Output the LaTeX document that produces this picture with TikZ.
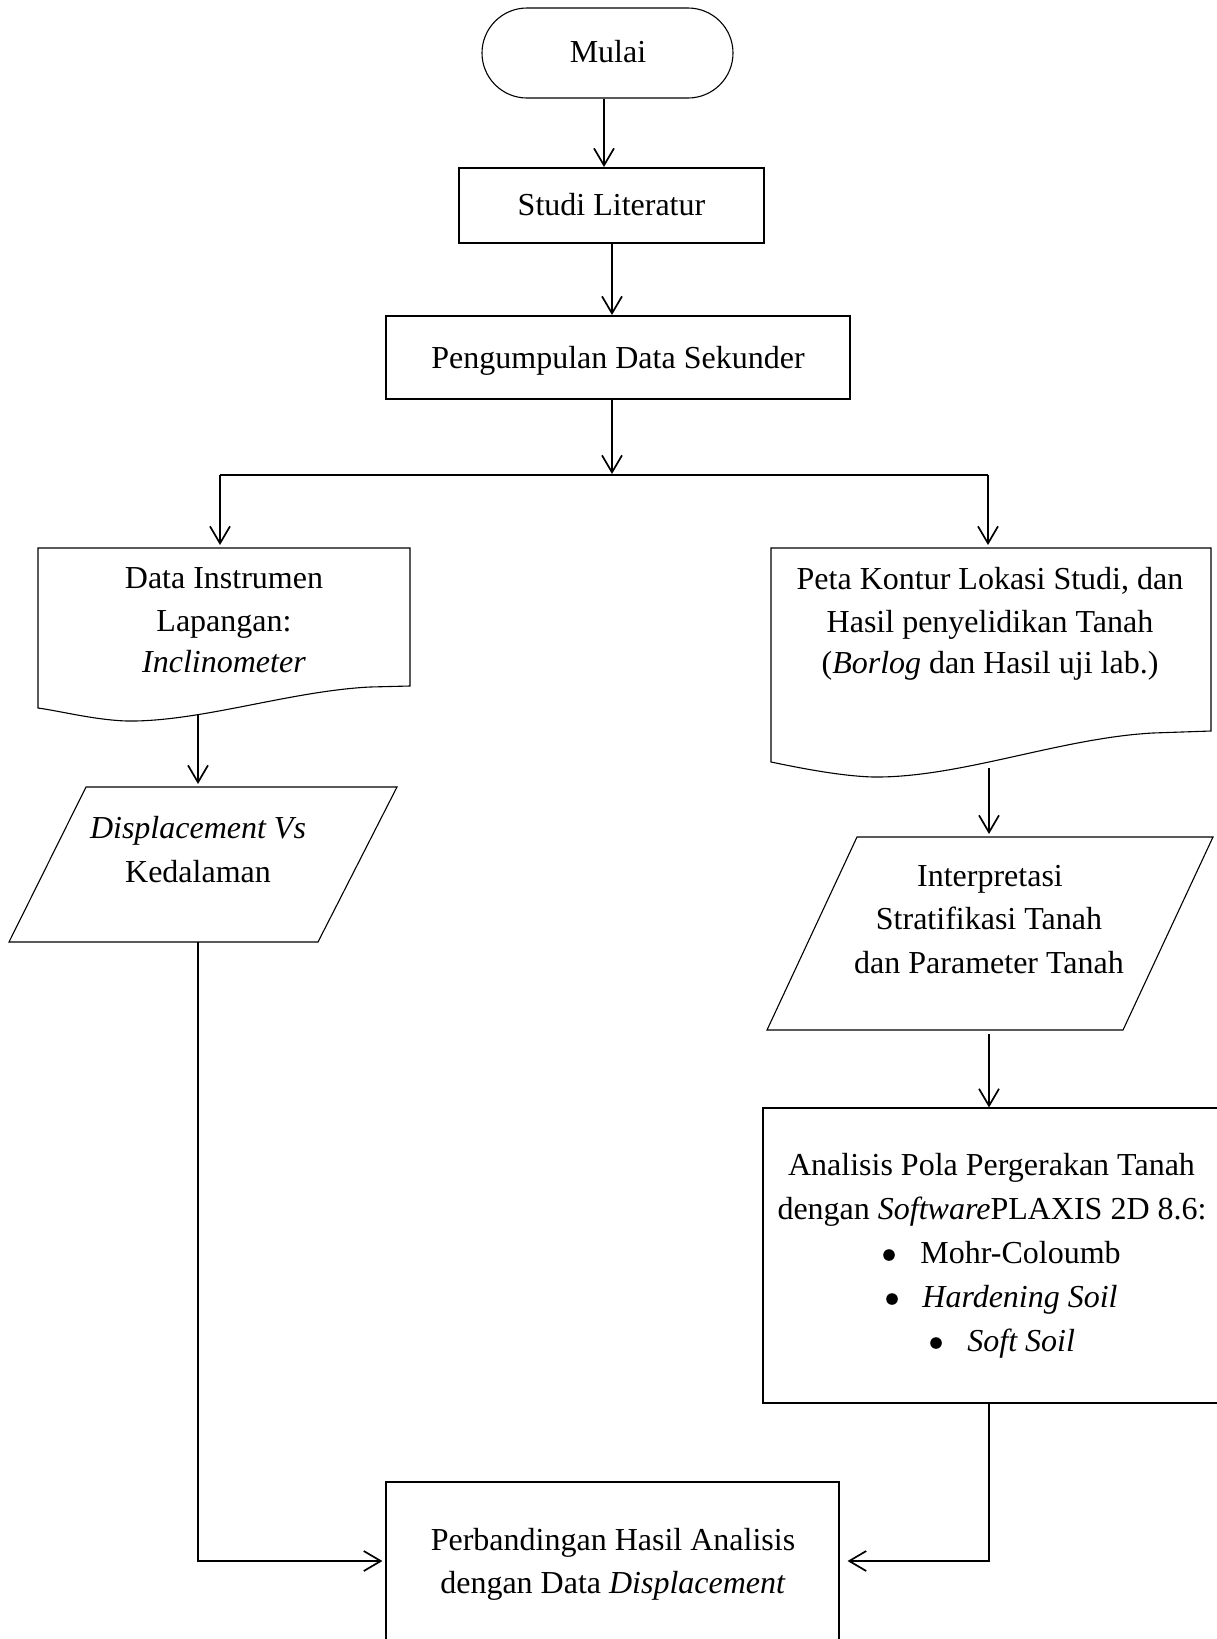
\documentclass[tikz,border=0pt]{standalone}
\usepackage{fontspec}
\setmainfont{Liberation Serif}
\usetikzlibrary{arrows.meta}
\begin{document}
\begin{tikzpicture}[x=0.5pt,y=-0.5pt,
  shapeline/.style={draw=black, line width=0.55pt},
  boxnode/.style={shapeline, rectangle, inner sep=0pt},
  txt/.style={anchor=base, inner sep=0pt, font=\fontsize{16pt}{21.5pt}\selectfont},
  ltxt/.style={txt, anchor=base west},
  dot/.style={circle, fill=black, inner sep=0pt, minimum size=5.8pt},
  flow/.style={line width=0.85pt, -{Straight Barb[length=8.5pt,width=10pt,line width=0.85pt]}},
  plain/.style={line width=0.85pt}]
\useasboundingbox (0,0) rectangle (1216,1639);

% boxes
\node[boxnode, rounded corners=22.5pt, minimum width=125.5pt, minimum height=45pt] (mulai) at (607.5,53) {};
\node[boxnode, minimum width=152.5pt, minimum height=37.5pt] (studi) at (611.5,205.5) {};
\node[boxnode, minimum width=232pt, minimum height=41.5pt] (data) at (618,357.5) {};
\node[boxnode, minimum width=233.5pt, minimum height=147.5pt] (anal) at (996.5,1255.5) {};
\node[boxnode, minimum width=226.5pt, minimum height=100pt] (perb) at (612.5,1582) {};

% document shapes
\draw[shapeline] (38,548) -- (410,548) -- (410,686) -- (370,687)
  .. controls (290,691) and (200,722) .. (127,721)
  .. controls (95,720) and (60,711) .. (38,708) -- cycle;
\draw[shapeline] (771,548) -- (1211,548) -- (1211,731) -- (1153,733)
  .. controls (1060,738) and (960,778) .. (873,777)
  .. controls (840,776) and (800,768) .. (771,762) -- cycle;

% parallelograms
\draw[shapeline] (86,787) -- (397,787) -- (318,942) -- (9,942) -- cycle;
\draw[shapeline] (857,837) -- (1213,837) -- (1123,1030) -- (767,1030) -- cycle;

% texts
\node[txt] (tmulai) at (608,62) {Mulai};
\node[txt] (tstudi) at (611.5,215) {Studi Literatur};
\node[txt] (tdata) at (618,368) {Pengumpulan Data Sekunder};

\node[txt] (tl1) at (224,588) {Data Instrumen};
\node[txt] (tl2) at (224,631) {Lapangan:};
\node[txt] (tl3) at (224,672) {\textit{Inclinometer}};

\node[txt] (tr1) at (990,589) {Peta Kontur Lokasi Studi, dan};
\node[txt] (tr2) at (990,632) {Hasil penyelidikan Tanah};
\node[txt] (tr3) at (990,673) {(\textit{Borlog} dan Hasil uji lab.)};

\node[txt] (tp1) at (198,838) {\textit{Displacement Vs}};
\node[txt] (tp2) at (198,882) {Kedalaman};

\node[txt] (tq1) at (990,886) {Interpretasi};
\node[txt] (tq2) at (989,929) {Stratifikasi Tanah};
\node[txt] (tq3) at (989,973) {dan Parameter Tanah};

\node[txt] (ta1) at (991.5,1175) {Analisis Pola Pergerakan Tanah};
\node[txt] (ta2) at (992,1219) {dengan \textit{Software}PLAXIS 2D 8.6:};
\node[dot] (b1) at (889,1255) {};
\node[ltxt] (ta3) at (920,1263) {Mohr-Coloumb};
\node[dot] (b2) at (892,1299) {};
\node[ltxt] (ta4) at (922,1307) {\textit{Hardening Soil}};
\node[dot] (b3) at (936,1343) {};
\node[ltxt] (ta5) at (967,1351) {\textit{Soft Soil}};

\node[txt] (tb1) at (613,1550) {Perbandingan Hasil Analisis};
\node[txt] (tb2) at (613,1593) {dengan Data \textit{Displacement}};

% connector points
\coordinate (m1) at (604,167);
\coordinate (s1) at (612,315);
\coordinate (split) at (612,474);
\coordinate (splitL) at (220,475);
\coordinate (splitR) at (988,475);
\coordinate (ldocT) at (220,545);
\coordinate (rdocT) at (988,545);
\coordinate (ldocB) at (198,714);
\coordinate (lparT) at (198,784);
\coordinate (rdocB) at (989,768);
\coordinate (rparT) at (989,834);
\coordinate (rparB) at (989,1034);
\coordinate (lparB) at (198,942);
\coordinate (cl) at (198,1561);
\coordinate (cr) at (989,1561);

% connectors
\draw[flow] (mulai.south -| m1) -- (m1);
\draw[flow] (studi.south -| s1) -- (s1);
\draw[flow] (data.south -| split) -- (split);
\draw[plain] (splitL) -- (splitR);
\draw[flow] (splitL) -- (ldocT);
\draw[flow] (splitR) -- (rdocT);
\draw[flow] (ldocB) -- (lparT);
\draw[flow] (rdocB) -- (rparT);
\draw[flow] (rparB) -- (anal.north -| rparB);
\draw[flow, shorten >=1.5pt] (lparB) -- (cl) -- (perb.west |- cl);
\draw[flow, shorten >=4pt] (anal.south -| cr) -- (cr) -- (perb.east |- cr);
\end{tikzpicture}
\end{document}
